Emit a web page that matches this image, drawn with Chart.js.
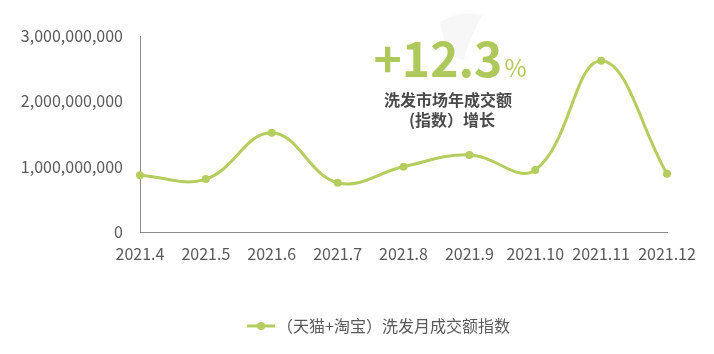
<!DOCTYPE html>
<html>
<head>
<meta charset="utf-8">
<script src="https://cdn.jsdelivr.net/npm/chart.js@4"></script>
<style>
  html, body { margin: 0; padding: 0; background: #fff; }
  #wrap { width: 714px; height: 354px; }
</style>
</head>
<body>
<div id="wrap"><canvas id="c" width="714" height="354"></canvas></div>
<script>
// chart data
var months = ['2021.4', '2021.5', '2021.6', '2021.7', '2021.8', '2021.9', '2021.10', '2021.11', '2021.12'];
var monthlyIndex = [870000000, 810000000, 1520000000, 755000000, 1000000000, 1180000000, 950000000, 2620000000, 890000000];
var yTicks = [0, 1000000000, 2000000000, 3000000000];
var seriesName = '（天猫+淘宝）洗发月成交额指数';
var growthText = '+12.3';
var noteLines = ['洗发市场年成交额', '(指数）增长'];

var green = '#b5cd5e';
var font = '"Noto Sans CJK SC", "Noto Sans", sans-serif';

// legend marker: short line with a dot in the middle
var marker = document.createElement('canvas');
marker.width = 28; marker.height = 10;
var mctx = marker.getContext('2d');
mctx.strokeStyle = green; mctx.lineWidth = 3;
mctx.beginPath(); mctx.moveTo(0, 5); mctx.lineTo(28, 5); mctx.stroke();
mctx.fillStyle = green;
mctx.beginPath(); mctx.arc(14, 5, 4, 0, Math.PI * 2); mctx.fill();

// big "+12.3%" note drawn over the plot
var notePlugin = {
    id: 'note',
    afterLayout: function (chart) {
        // legend sits a bit right of the canvas centre in the original
        chart.legend.left += 48;
        chart.legend.right += 48;
    },
    beforeDatasetsDraw: function (chart) {
        var ctx = chart.ctx;
        ctx.save();
        // faint grey shape behind the number
        ctx.fillStyle = 'rgba(0,0,0,0.03)';
        ctx.beginPath();
        ctx.moveTo(440, 22); ctx.quadraticCurveTo(458, 10, 482, 15);
        ctx.lineTo(472, 36); ctx.quadraticCurveTo(466, 50, 464, 60);
        ctx.lineTo(448, 56);
        ctx.closePath(); ctx.fill();
        ctx.restore();
    },
    afterDatasetsDraw: function (chart) {
        var ctx = chart.ctx;
        ctx.save();
        ctx.fillStyle = '#aec85c';
        ctx.textBaseline = 'alphabetic';
        ctx.textAlign = 'left';
        ctx.font = 'bold 48px ' + font;
        var w = ctx.measureText(growthText).width;
        ctx.font = '24px ' + font;
        var pw = ctx.measureText('%').width;
        var x0 = 449 - (w + pw) / 2;
        ctx.font = 'bold 48px ' + font;
        ctx.fillText(growthText, x0, 77);
        ctx.font = '24px ' + font;
        ctx.fillText('%', x0 + w + 2, 77);

        ctx.fillStyle = '#4a4a4a';
        ctx.font = 'bold 16px ' + font;
        ctx.textAlign = 'center';
        ctx.fillText(noteLines[0], 448, 106);
        ctx.fillText(noteLines[1], 452, 126);
        ctx.restore();
    }
};

new Chart(document.getElementById('c').getContext('2d'), {
    type: 'line',
    data: {
        labels: months,
        datasets: [{
            label: seriesName,
            data: monthlyIndex,
            borderColor: green,
            backgroundColor: green,
            borderWidth: 3,
            pointRadius: 4,
            pointHoverRadius: 4,
            pointStyle: 'circle',
            pointBackgroundColor: green,
            pointBorderWidth: 0,
            tension: 0.4,
            fill: false
        }]
    },
    options: {
        responsive: false,
        animation: false,
        layout: { padding: { left: 0, right: 47, top: 36, bottom: 10 } },
        plugins: {
            tooltip: { enabled: false },
            legend: {
                position: 'bottom',
                labels: {
                    usePointStyle: true,
                    color: '#595959',
                    font: { family: font, size: 16 },
                    padding: 10,
                    generateLabels: function (chart) {
                        return [{
                            text: seriesName,
                            pointStyle: marker,
                            fontColor: '#595959',
                            lineWidth: 0,
                            hidden: false,
                            datasetIndex: 0
                        }];
                    }
                }
            }
        },
        scales: {
            x: {
                offset: false,
                grid: { display: false, drawTicks: false },
                border: { display: true, color: '#8c8c8c', width: 1 },
                ticks: {
                    color: '#595959',
                    font: { family: font, size: 16 },
                    padding: 12,
                    maxRotation: 0,
                    autoSkip: false
                },
                afterFit: function (scale) { scale.height = 76; }
            },
            y: {
                min: 0,
                max: 3000000000,
                afterBuildTicks: function (scale) {
                    scale.ticks = yTicks.map(function (v) { return { value: v }; });
                },
                grid: { display: false, drawTicks: false },
                border: { display: true, color: '#8c8c8c', width: 1 },
                ticks: {
                    color: '#595959',
                    font: { family: font, size: 16 },
                    padding: 17,
                    callback: function (v) { return v.toLocaleString('en-US'); }
                },
                afterFit: function (scale) { scale.width = 140; }
            }
        }
    },
    plugins: [notePlugin]
});
</script>
</body>
</html>
